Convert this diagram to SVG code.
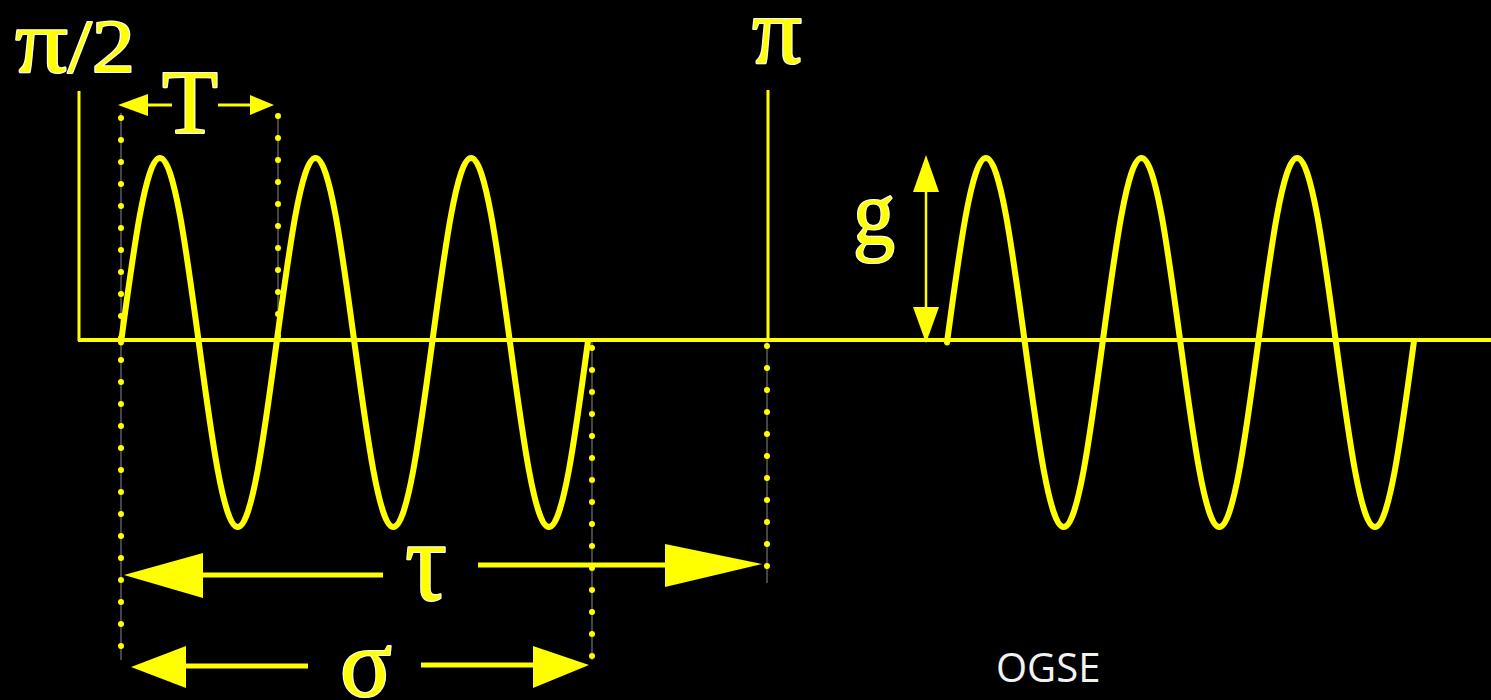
<svg xmlns="http://www.w3.org/2000/svg" width="1491" height="700" viewBox="0 0 1491 700">
<style>
.lbl{font-family:"Liberation Serif","DejaVu Serif",serif;fill:#ffff00;stroke:#ffffff;stroke-width:2.2;paint-order:stroke;stroke-linejoin:round}
.solid{stroke:#ffff00;fill:none}
.wave{stroke:#ffff00;stroke-width:6;fill:none;stroke-linecap:round;stroke-linejoin:round}
.guide{stroke:#8a8a8a;stroke-width:1}
.dots{stroke:#ffff00;stroke-width:6;stroke-linecap:round;stroke-dasharray:0 22}
.head{fill:#ffff00}
.ogse{font-family:"Open Sans","Liberation Sans",sans-serif;fill:#f2f2f2;font-size:40px}
</style>
<rect width="1491" height="700" fill="#000"/>
<g id="connectors">
  <g id="guides">
    <line class="guide" x1="121" y1="113" x2="121" y2="660"/>
    <line class="dots" x1="121" y1="118" x2="121" y2="660"/>
    <line class="guide" x1="278" y1="113" x2="278" y2="340"/>
    <line class="dots" x1="278" y1="116" x2="278" y2="340"/>
    <line class="guide" x1="592" y1="342" x2="592" y2="660"/>
    <line class="dots" x1="592" y1="348" x2="592" y2="660"/>
    <line class="guide" x1="767" y1="342" x2="767" y2="583"/>
    <line class="dots" x1="767" y1="346" x2="767" y2="583"/>
  </g>
  <line class="solid" x1="79" y1="91" x2="79" y2="341" stroke-width="3"/>
  <line class="solid" x1="768" y1="90" x2="768" y2="341" stroke-width="3"/>
  <line class="solid" x1="78" y1="340" x2="1491" y2="340" stroke-width="4"/>
  <line class="solid" x1="146" y1="105" x2="172" y2="105" stroke-width="3"/>
  <polygon class="head" points="118,105 148,94 148,116"/>
  <line class="solid" x1="218" y1="105" x2="252" y2="105" stroke-width="3"/>
  <polygon class="head" points="274,105 250,95 250,115"/>
  <line class="solid" x1="200" y1="575" x2="383" y2="575" stroke-width="5"/>
  <polygon class="head" points="124,575 203,553 203,598"/>
  <line class="solid" x1="478" y1="565" x2="668" y2="565" stroke-width="5"/>
  <polygon class="head" points="762,564 665,544 665,587"/>
  <line class="solid" x1="183" y1="666" x2="308" y2="666" stroke-width="5"/>
  <polygon class="head" points="131,667 186,646 186,688"/>
  <line class="solid" x1="421" y1="665" x2="536" y2="665" stroke-width="5"/>
  <polygon class="head" points="589,665 533,646 533,688"/>
  <line class="solid" x1="926" y1="185" x2="926" y2="312" stroke-width="2.5"/>
  <polygon class="head" points="926,155 913,192 939,192"/>
  <polygon class="head" points="926,343 913,307 939,307"/>
</g>
<g id="wave1">
  <path class="wave" d="M121,342.5 c12.69,-94.52 24.83,-184.5 38.9,-184.5 c14.08,0 26.22,89.98 38.9,184.5 c12.69,94.52 24.83,184.5 38.9,184.5 c14.08,0 26.22,-89.98 38.9,-184.5 c12.69,-94.52 24.83,-184.5 38.9,-184.5 c14.08,0 26.22,89.98 38.9,184.5 c12.69,94.52 24.83,184.5 38.9,184.5 c14.08,0 26.22,-89.98 38.9,-184.5 c12.69,-94.52 24.83,-184.5 38.9,-184.5 c14.08,0 26.22,89.98 38.9,184.5 c12.69,94.52 24.83,184.5 38.9,184.5 c14.08,0 26.22,-89.98 38.9,-184.5"/>
</g>
<g id="wave2">
  <path class="wave" d="M947,342.5 c12.69,-94.52 24.83,-184.5 38.9,-184.5 c14.08,0 26.22,89.98 38.9,184.5 c12.69,94.52 24.83,184.5 38.9,184.5 c14.08,0 26.22,-89.98 38.9,-184.5 c12.69,-94.52 24.83,-184.5 38.9,-184.5 c14.08,0 26.22,89.98 38.9,184.5 c12.69,94.52 24.83,184.5 38.9,184.5 c14.08,0 26.22,-89.98 38.9,-184.5 c12.69,-94.52 24.83,-184.5 38.9,-184.5 c14.08,0 26.22,89.98 38.9,184.5 c12.69,94.52 24.83,184.5 38.9,184.5 c14.08,0 26.22,-89.98 38.9,-184.5"/>
</g>
<g id="label-pi2"><text class="lbl" x="15" y="72" textLength="120" lengthAdjust="spacingAndGlyphs"><tspan font-size="92">π</tspan><tspan font-size="76">/2</tspan></text></g>
<g id="label-pi"><text class="lbl" x="752" y="63" font-size="96" textLength="50" lengthAdjust="spacingAndGlyphs">π</text></g>
<g id="label-T"><text class="lbl" x="162" y="133" font-size="90" textLength="56" lengthAdjust="spacingAndGlyphs">T</text></g>
<g id="label-g"><text class="lbl" x="853" y="244" font-size="92" textLength="42" lengthAdjust="spacingAndGlyphs">g</text></g>
<g id="label-tau"><text class="lbl" x="405" y="600" font-size="115" textLength="42" lengthAdjust="spacingAndGlyphs">τ</text></g>
<g id="label-sigma"><text class="lbl" x="340" y="696" font-size="98" textLength="52" lengthAdjust="spacingAndGlyphs">σ</text></g>
<g id="label-ogse"><text class="ogse" x="996" y="682">OGSE</text></g>
</svg>
